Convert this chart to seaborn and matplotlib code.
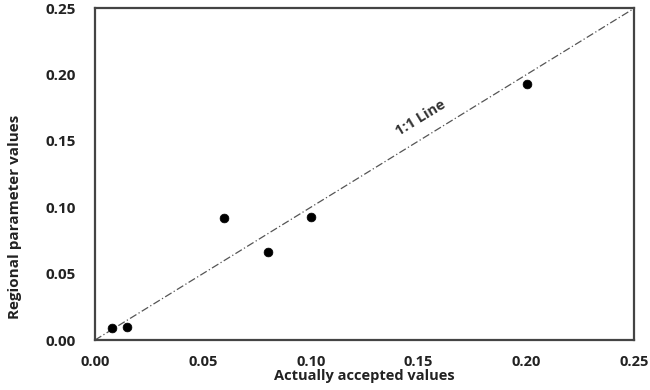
import numpy as np
import pandas as pd
import matplotlib
matplotlib.use('Agg')
import matplotlib.pyplot as plt
import seaborn as sns

# values
actual = [0.008, 0.015, 0.060, 0.080, 0.100, 0.200]
regional = [0.009, 0.010, 0.092, 0.066, 0.093, 0.193]
ticks = [0.00, 0.05, 0.10, 0.15, 0.20, 0.25]

df = pd.DataFrame({'actual': actual, 'regional': regional})

sns.set_style('white')
plt.rcParams['font.family'] = ['Open Sans', 'DejaVu Sans']

fig = plt.figure(figsize=(6.5, 3.9), dpi=100)
ax = fig.add_axes([0.146, 0.128, 0.830, 0.851])

# 1:1 reference line
ax.plot([0, 0.25], [0, 0.25], color='#555555', lw=0.9, linestyle=(0, (6, 2, 1, 2)))
sns.scatterplot(data=df, x='actual', y='regional', color='black', s=40,
                edgecolor='black', ax=ax, zorder=3)

ax.text(0.151, 0.167, '1:1 Line', rotation=31.5, ha='center', va='center',
        fontsize=10.5, fontweight='bold', color='#333333')

ax.set_xlim(0, 0.25)
ax.set_ylim(0, 0.25)
ax.set_xticks(ticks)
ax.set_yticks(ticks)
ax.set_xticklabels([f'{t:.2f}' for t in ticks], fontweight='bold', fontsize=10.5, color='#222222')
ax.set_yticklabels([f'{t:.2f}' for t in ticks], fontweight='bold', fontsize=11, color='#222222')
ax.tick_params(axis='both', direction='out', length=4, width=0.8, color='#bbbbbb')
ax.tick_params(axis='y', pad=10)
ax.tick_params(axis='x', pad=7)

ax.set_xlabel('Actually accepted values', fontweight='bold', fontsize=10.5, color='#222222', labelpad=0)
ax.set_ylabel('Regional parameter values', fontweight='bold', fontsize=11, color='#222222')
# label sits a bit below the axis centre in the reference
ax.yaxis.set_label_coords(-0.136, 0.37)

for s in ax.spines.values():
    s.set_color('#444444')
    s.set_linewidth(1.6)

fig.savefig('out.png', dpi=100)
